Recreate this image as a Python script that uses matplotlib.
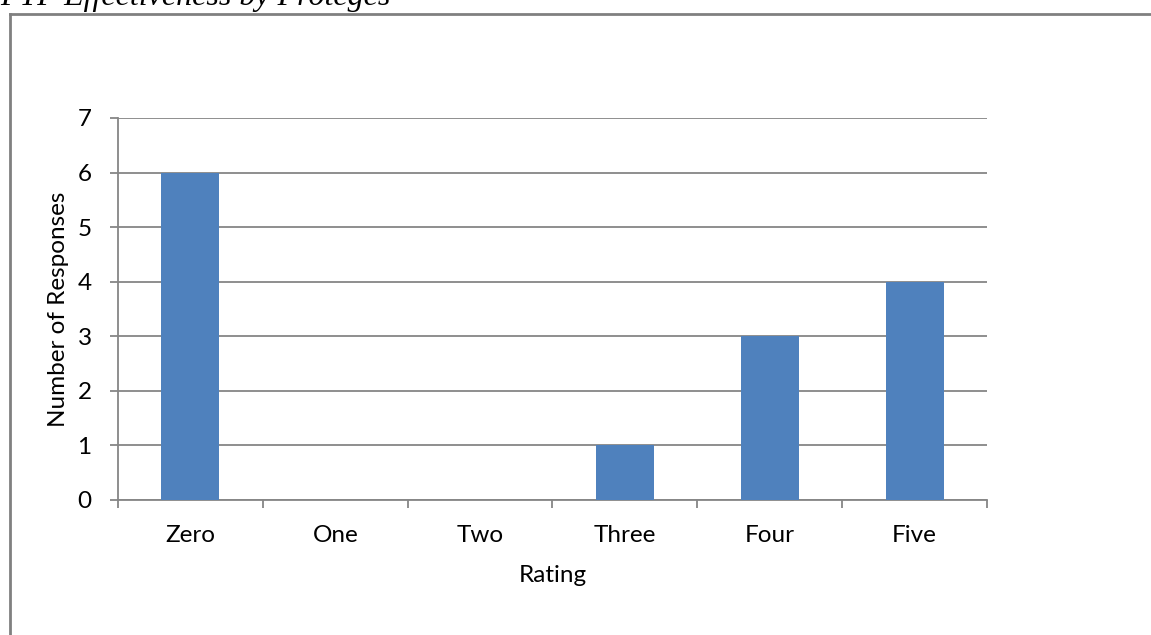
import matplotlib.pyplot as plt
from matplotlib.lines import Line2D

# ratings and how many responses each got
ratings = ["Zero", "One", "Two", "Three", "Four", "Five"]
responses = [6, 0, 0, 1, 3, 4]

bar_color = "#4F81BD"
line_gray = "#868686"

plt.rcParams["font.family"] = ["Lato", "DejaVu Sans"]
fs = 17.5

W, H = 1151, 635
fig = plt.figure(figsize=(W / 100, H / 100), dpi=100)

# plot area in pixel terms
x0, x1, y0, y1 = 118, 987, 500, 118
ax = fig.add_axes([x0 / W, 1 - y0 / H, (x1 - x0) / W, (y0 - y1) / H])

pos = range(len(ratings))
ax.bar(pos, responses, width=0.4, color=bar_color, zorder=3)

ax.set_xlim(-0.5, len(ratings) - 0.5)
ax.set_ylim(0, 7)
ax.set_yticks(range(0, 8))
ax.yaxis.grid(True, color=line_gray, linewidth=1.3, zorder=0)

ax.set_xticks(list(pos))
ax.set_xticklabels(ratings)
ax.set_xticks([i - 0.5 for i in range(len(ratings) + 1)], minor=True)
ax.tick_params(axis="x", which="major", length=0, pad=18, labelsize=fs)
ax.tick_params(axis="x", which="minor", length=6, width=1.3, color=line_gray, direction="out")
ax.tick_params(axis="y", length=6, width=1.3, color=line_gray, pad=13, labelsize=fs)

for side in ("top", "right"):
    ax.spines[side].set_visible(False)
for side in ("left", "bottom"):
    ax.spines[side].set_color(line_gray)
    ax.spines[side].set_linewidth(1.3)

ax.set_xlabel("Rating", fontsize=fs, labelpad=14)
ax.set_ylabel("Number of Responses", fontsize=fs, labelpad=6)

# outer frame around the chart (left and top edges)
fig.add_artist(Line2D([10 / W, 10 / W], [0, 1 - 14 / H], color="#808080", linewidth=2))
fig.add_artist(Line2D([10 / W, 1], [1 - 14 / H, 1 - 14 / H], color="#808080", linewidth=2))

# caption above the frame
fig.text(0.0, 1 - 5 / H, "PTP Effectiveness by Protégés", fontsize=23, style="italic",
         family="Liberation Serif", va="baseline", ha="left")

fig.savefig("out.png", dpi=100)
